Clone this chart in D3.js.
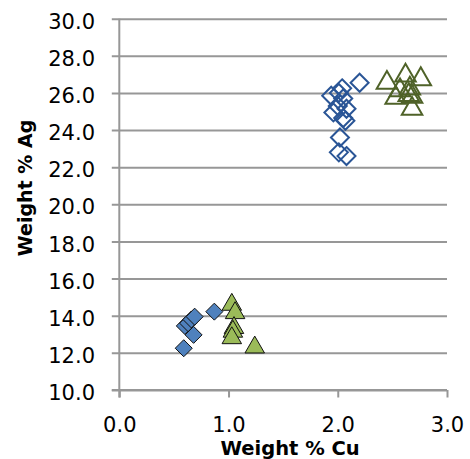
<!DOCTYPE html>
<html>
<head>
<meta charset="utf-8">
<script src="https://cdn.jsdelivr.net/npm/d3@7"></script>
<style>
  html, body { margin: 0; padding: 0; background: #ffffff; }
  svg { display: block; }
</style>
</head>
<body>
<svg id="chart" width="470" height="459"></svg>
<script>
// ---- Data ----
const xTicks = [0, 1, 2, 3];
const yTicks = [10, 12, 14, 16, 18, 20, 22, 24, 26, 28, 30];

const filledDiamondX = [0.59, 0.60, 0.63, 0.66, 0.69, 0.68, 0.87];
const filledDiamondY = [12.25, 13.45, 13.6, 13.8, 13.95, 12.97, 14.22];

const filledTriangleX = [1.03, 1.06, 1.05, 1.04, 1.03, 1.24];
const filledTriangleY = [14.75, 14.3, 13.5, 13.3, 12.95, 12.45];

const openDiamondX = [2.20, 2.04, 2.01, 1.94, 2.05, 2.00, 2.08, 1.96, 2.05, 2.07, 2.02, 2.01, 2.08];
const openDiamondY = [26.55, 26.25, 26.0, 25.85, 25.7, 25.3, 25.15, 24.95, 24.65, 24.5, 23.6, 22.8, 22.6];

const openTriangleX = [2.45, 2.62, 2.76, 2.57, 2.66, 2.65, 2.53, 2.68, 2.68];
const openTriangleY = [26.7, 27.1, 26.9, 26.3, 26.4, 26.05, 25.9, 25.95, 25.3];

const xTitle = "Weight % Cu";
const yTitle = "Weight % Ag";

// ---- Layout ----
const svg = d3.select("#chart");
const plot = { left: 119.3, right: 447, top: 18.7, bottom: 390 };
const x = d3.scaleLinear().domain([0, 3]).range([plot.left, plot.right]);
const y = d3.scaleLinear().domain([10, 30]).range([plot.bottom, plot.top]);
const fmt = d3.format(".1f");
const gridColor = "#979797";
const outTick = 7.5;
const fontFamily = "'DejaVu Sans', sans-serif";

// Horizontal gridlines + y axis ticks
const yAxis = svg.append("g")
  .attr("transform", `translate(${plot.left},0)`)
  .call(d3.axisLeft(y).tickValues(yTicks).tickSize(-(plot.right - plot.left)).tickSizeOuter(0).tickFormat(fmt));
yAxis.select(".domain").remove();
yAxis.selectAll(".tick line")
  .attr("x1", -outTick)
  .attr("stroke", gridColor).attr("stroke-width", 2);
yAxis.selectAll(".tick text")
  .attr("x", -(plot.left - 95))
  .attr("dy", null)
  .attr("y", 9.6)
  .attr("fill", "#000")
  .style("font-family", fontFamily)
  .style("font-size", "21px")
  .attr("text-anchor", "end");

// X axis
const xAxis = svg.append("g")
  .attr("transform", `translate(0,${plot.bottom})`)
  .call(d3.axisBottom(x).tickValues(xTicks).tickSize(outTick).tickSizeOuter(0).tickFormat(fmt));
xAxis.select(".domain").remove();
xAxis.selectAll(".tick line").attr("stroke", gridColor).attr("stroke-width", 2);
xAxis.selectAll(".tick text")
  .attr("dy", null)
  .attr("y", 42)
  .attr("fill", "#000")
  .style("font-family", fontFamily)
  .style("font-size", "21px");

// Axis lines
svg.append("line")
  .attr("x1", plot.left - outTick).attr("x2", plot.right)
  .attr("y1", plot.bottom).attr("y2", plot.bottom)
  .attr("stroke", gridColor).attr("stroke-width", 2);
svg.append("line")
  .attr("x1", plot.left).attr("x2", plot.left)
  .attr("y1", plot.top).attr("y2", plot.bottom + outTick)
  .attr("stroke", gridColor).attr("stroke-width", 2);

// Axis titles
svg.append("text")
  .attr("x", (plot.left + plot.right) / 2 + 7)
  .attr("y", 455)
  .attr("text-anchor", "middle")
  .style("font-family", fontFamily)
  .style("font-weight", "bold")
  .style("font-size", "19.5px")
  .text(xTitle);
svg.append("text")
  .attr("transform", "translate(32,188) rotate(-90)")
  .attr("text-anchor", "middle")
  .style("font-family", fontFamily)
  .style("font-weight", "bold")
  .style("font-size", "19px")
  .text(yTitle);

// ---- Symbols ----
const diamondType = {
  draw(ctx, size) {
    const r = Math.sqrt(size / 2);
    ctx.moveTo(0, -r); ctx.lineTo(r, 0); ctx.lineTo(0, r); ctx.lineTo(-r, 0); ctx.closePath();
  }
};
const triangleType = {
  draw(ctx, size) {
    const w = Math.sqrt(size * 4 / Math.sqrt(3));
    const h = w * Math.sqrt(3) / 2;
    ctx.moveTo(0, -h / 2); ctx.lineTo(w / 2, h / 2); ctx.lineTo(-w / 2, h / 2); ctx.closePath();
  }
};

function series(xs, ys, type, size, fill, stroke, sw) {
  const pts = xs.map((v, i) => ({ x: v, y: ys[i] }));
  svg.append("g").selectAll("path").data(pts).join("path")
    .attr("transform", d => `translate(${x(d.x)},${y(d.y)})`)
    .attr("d", d3.symbol().type(type).size(size))
    .attr("fill", fill)
    .attr("stroke", stroke)
    .attr("stroke-width", sw)
    .attr("stroke-linejoin", "miter");
}

series(filledDiamondX, filledDiamondY, diamondType, 2 * 8.5 * 8.5, "#4F81BD", "#111", 1);
series(filledTriangleX, filledTriangleY, triangleType, Math.sqrt(3) / 4 * 19.5 * 19.5, "#9BBB59", "#111", 1);
series(openDiamondX, openDiamondY, diamondType, 2 * 9 * 9, "none", "#2A5596", 2);
series(openTriangleX, openTriangleY, triangleType, Math.sqrt(3) / 4 * 20.5 * 20.5, "none", "#4F6228", 2);
</script>
</body>
</html>
